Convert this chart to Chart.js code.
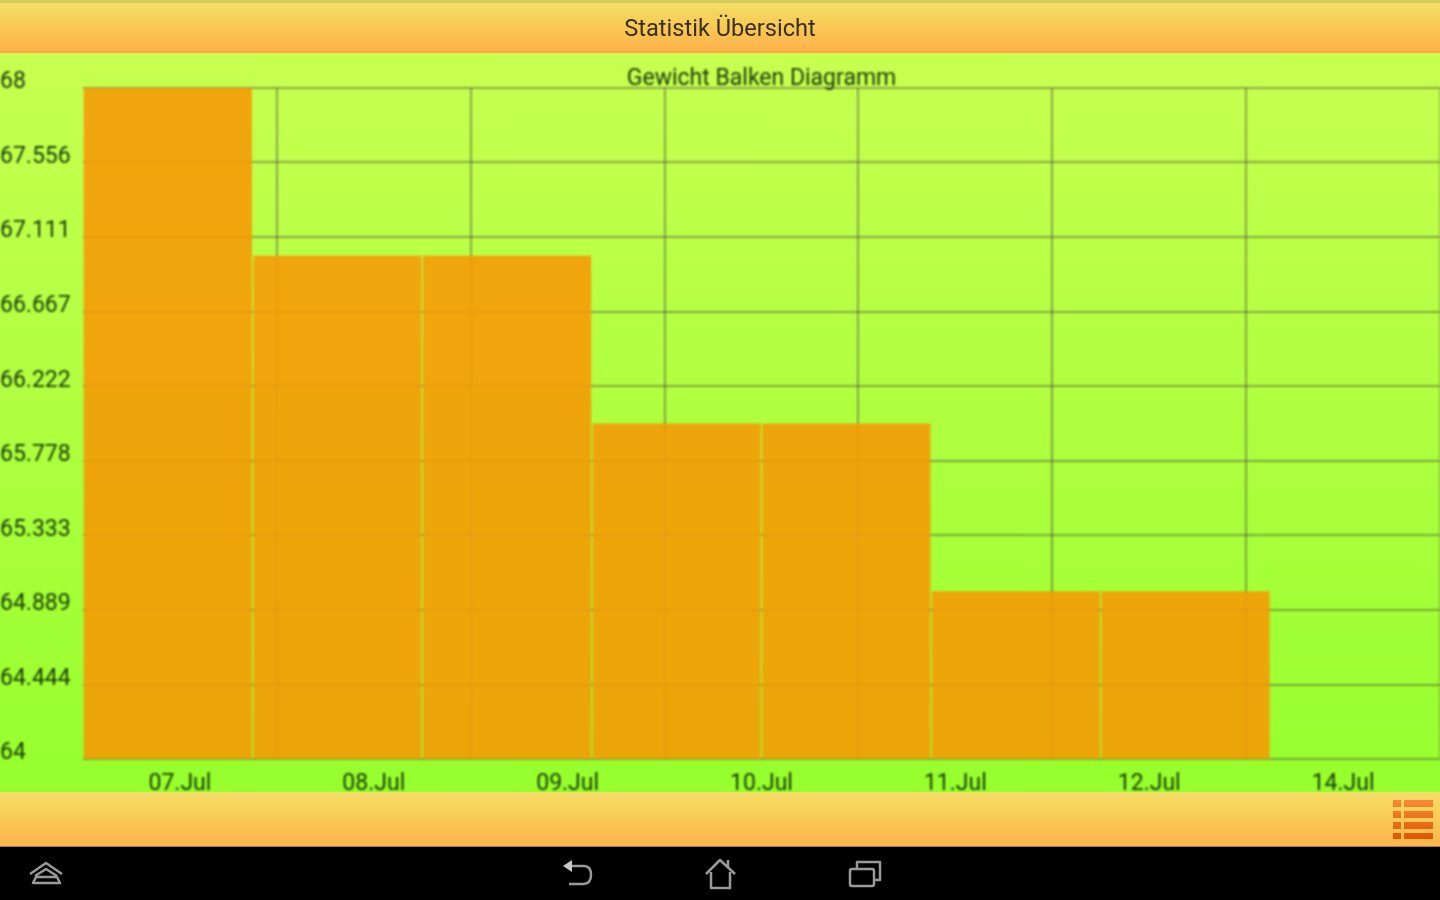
<!DOCTYPE html>
<html>
<head>
    <meta charset="utf-8">
    <script src="https://cdn.jsdelivr.net/npm/chart.js"></script>
    <style>
        html, body { margin: 0; padding: 0; width: 1440px; height: 900px; overflow: hidden; background: #000; font-family: Roboto, sans-serif; }
        .edge { position: absolute; left: 0; top: 0; width: 1440px; height: 3px; background: #d2c95f; }
        .top { position: absolute; left: 0; top: 3px; width: 1440px; height: 50px; background: linear-gradient(#f3df64, #fdb44a 92%, #ffa63f); }
        .top span { display: block; text-align: center; line-height: 51px; font-size: 23.6px; color: #3a3018; filter: blur(0.6px); }
        .plot { position: absolute; left: 0; top: 53px; width: 1440px; height: 739px; background: linear-gradient(#c8ff50, #96ff2d); overflow: hidden; }
        .bottom { position: absolute; left: 0; top: 792px; width: 1440px; height: 54px; background: linear-gradient(#f5df66, #fdb54b); border-bottom: 1px solid #a8803a; }
        canvas { display: block; filter: blur(0.8px); }
        svg { position: absolute; left: 0; top: 0; filter: blur(0.7px); }
    </style>
</head>
<body>
    <div class="edge"></div>
    <div class="top"><span>Statistik Übersicht</span></div>
    <div class="plot"><canvas id="weightChart" width="1440" height="739"></canvas></div>
    <div class="bottom"></div>

    <svg width="1440" height="900" fill="none">
        <defs>
            <linearGradient id="menuFill" x1="0" y1="800" x2="0" y2="842" gradientUnits="userSpaceOnUse">
                <stop offset="0" stop-color="#f98a35"/>
                <stop offset="1" stop-color="#dd5200"/>
            </linearGradient>
        </defs>
        <g fill="url(#menuFill)">
            <rect x="1393" y="800" width="8" height="7"/><rect x="1404" y="800" width="29" height="7"/>
            <rect x="1393" y="811" width="8" height="7"/><rect x="1404" y="811" width="29" height="7"/>
            <rect x="1393" y="822" width="8" height="7"/><rect x="1404" y="822" width="29" height="7"/>
            <rect x="1393" y="833" width="8" height="6"/><rect x="1404" y="833" width="29" height="6"/>
        </g>
        <g stroke="#9a9a9a" stroke-width="2.5" stroke-linejoin="round">
            <path d="M30 874 L46 863 L62 874 M35 876 L46 869 L57 876 M33 883 L60 883 L57 877 L36 877 Z"/>
            <path d="M566 866 H584 Q591 866 591 875 Q591 884 583 884 H569"/>
            <path d="M706 874 L720 860 L735 874 M711 872 V888 H730 V872 M728 860 V867"/>
            <rect x="850" y="869" width="24" height="17" rx="2"/>
            <path d="M857 869 V862 H880 V880 H874"/>
        </g>
        <path d="M563 866 L572 860 V872 Z" fill="#c8c8c8"/>
    </svg>

    <script>
        const barSlots = ['07.Jul', '08.Jul', '09.Jul', '10.Jul', '11.Jul', '12.Jul', '14.Jul', ''];
        const weights = [68, 67, 67, 66, 66, 65, 65];
        const dayLabels = ['07.Jul', '08.Jul', '09.Jul', '10.Jul', '11.Jul', '12.Jul', '14.Jul'];
        const weightTicks = [64, 64.444, 64.889, 65.333, 65.778, 66.222, 66.667, 67.111, 67.556, 68];

        const textColor = '#173a08';
        const gridColor = 'rgba(70, 70, 70, 0.47)';

        const data = {
            labels: barSlots,
            datasets: [{
                label: 'Gewicht',
                data: weights,
                xAxisID: 'slots',
                backgroundColor: 'rgba(245, 155, 5, 0.9)',
                borderWidth: 0,
                barPercentage: 0.992,
                categoryPercentage: 1
            }]
        };

        const config = {
            type: 'bar',
            data: data,
            options: {
                responsive: false,
                animation: false,
                layout: { padding: 0, autoPadding: false },
                plugins: {
                    legend: { display: false },
                    tooltip: { enabled: false },
                    title: {
                        display: true,
                        text: 'Gewicht Balken Diagramm',
                        fullSize: false,
                        color: textColor,
                        font: { family: 'Roboto', size: 23, weight: 'normal', lineHeight: 1 },
                        padding: { top: 15, bottom: -3 }
                    }
                },
                scales: {
                    slots: {
                        type: 'category',
                        display: false,
                        offset: true
                    },
                    x: {
                        type: 'category',
                        labels: dayLabels,
                        offset: true,
                        position: 'bottom',
                        border: { display: false },
                        grid: {
                            // no line on the outer edges of the plot
                            color: function(ctx) {
                                return ctx.index === 0 || ctx.index === dayLabels.length ? 'transparent' : gridColor;
                            },
                            lineWidth: 2,
                            drawTicks: false,
                            offset: true
                        },
                        ticks: {
                            color: textColor,
                            padding: 11,
                            maxRotation: 0,
                            autoSkip: false,
                            font: { family: 'Roboto', size: 23 }
                        },
                        afterFit: function(scale) { scale.height = 33; }
                    },
                    y: {
                        min: 64,
                        max: 68,
                        border: { display: false },
                        grid: { color: gridColor, lineWidth: 2, drawTicks: false },
                        afterBuildTicks: function(scale) {
                            scale.ticks = weightTicks.map(function(v) { return { value: v }; });
                        },
                        ticks: {
                            color: textColor,
                            crossAlign: 'far',
                            autoSkip: false,
                            font: { family: 'Roboto', size: 23, lineHeight: '11px' },
                            // empty second line lifts the label above its grid line
                            callback: function(value) { return [String(value), '']; }
                        },
                        afterFit: function(scale) { scale.width = 83; }
                    }
                }
            }
        };

        const weightChart = new Chart(document.getElementById('weightChart'), config);
    </script>
</body>
</html>
